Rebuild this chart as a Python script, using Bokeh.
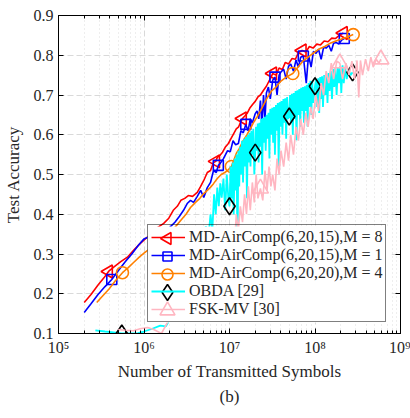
import numpy as np
from bokeh.plotting import figure
from bokeh.models import (LogAxis, LinearAxis, FixedTicker, Legend, LegendItem, Range1d, Title,
                          CustomJSTickFormatter, LinearScale)
from bokeh.embed import file_html
from bokeh.resources import INLINE

# ---------------- data ----------------
red_x = [2.0e5, 2.4e5, 2.9e5, 3.4e5, 3.85e5, 4.5e5, 5.3e5, 6.4e5, 7.6e5, 9.0e5,
         1.05e6, 1.25e6, 1.45e6, 1.7e6, 1.95e6, 2.2e6, 2.45e6, 2.7e6, 3.0e6, 3.3e6,
         3.7e6, 4.2e6, 4.6e6, 5.0e6, 5.5e6, 6.0e6, 6.5e6, 6.9e6, 7.2e6, 7.7e6,
         8.3e6, 9.0e6, 9.7e6, 1.04e7, 1.12e7, 1.2e7, 1.28e7, 1.35e7, 1.42e7, 1.52e7,
         1.62e7, 1.74e7, 1.86e7, 2.0e7, 2.15e7, 2.3e7, 2.5e7, 2.7e7, 2.95e7, 3.2e7,
         3.5e7, 3.8e7, 4.15e7, 4.5e7, 4.9e7, 5.4e7, 5.9e7, 6.4e7, 7.1e7, 7.8e7,
         8.6e7, 9.5e7, 1.05e8, 1.16e8, 1.28e8, 1.42e8, 1.57e8, 1.73e8, 1.92e8, 2.15e8]
red_y = [0.178, 0.198, 0.222, 0.240, 0.256, 0.268, 0.280, 0.292, 0.310, 0.326,
         0.339, 0.352, 0.367, 0.377, 0.390, 0.410, 0.420, 0.435, 0.440, 0.447,
         0.445, 0.455, 0.470, 0.485, 0.505, 0.510, 0.530, 0.533, 0.543, 0.548,
         0.556, 0.570, 0.578, 0.590, 0.603, 0.615, 0.620, 0.632, 0.641, 0.648,
         0.655, 0.668, 0.676, 0.684, 0.695, 0.700, 0.712, 0.722, 0.738, 0.754,
         0.750, 0.768, 0.764, 0.782, 0.778, 0.792, 0.790, 0.807, 0.812, 0.808,
         0.822, 0.818, 0.828, 0.826, 0.836, 0.834, 0.843, 0.842, 0.850, 0.856]
red_mx = [3.85e5, 6.9e6, 1.42e7, 3.2e7, 7.1e7, 2.15e8]
red_my = [0.256, 0.533, 0.641, 0.754, 0.812, 0.856]

blue_x = [2.0e5, 2.4e5, 2.9e5, 3.5e5, 4.2e5, 5.0e5, 6.0e5, 7.2e5, 8.6e5, 1.0e6,
          1.2e6, 1.4e6, 1.7e6, 2.0e6, 2.3e6, 2.6e6, 2.9e6, 3.2e6, 3.5e6, 3.8e6,
          4.2e6, 4.6e6, 5.0e6, 5.5e6, 6.0e6, 6.5e6, 7.0e6, 7.4e6, 7.8e6, 8.5e6,
          9.5e6, 1.02e7, 1.1e7, 1.18e7, 1.27e7, 1.36e7, 1.45e7, 1.55e7, 1.65e7, 1.75e7,
          1.85e7, 2.0e7, 2.1e7, 2.2e7, 2.3e7, 2.4e7, 2.5e7, 2.6e7, 2.7e7, 2.85e7,
          3.0e7, 3.2e7, 3.4e7, 3.6e7, 3.8e7, 4.0e7, 4.3e7, 4.6e7, 4.9e7, 5.2e7,
          5.6e7, 6.0e7, 6.4e7, 6.8e7, 7.3e7, 7.9e7, 8.4e7, 9.0e7, 9.6e7, 1.03e8,
          1.1e8, 1.18e8, 1.26e8, 1.35e8, 1.45e8, 1.55e8, 1.65e8, 1.77e8, 1.9e8, 2.05e8,
          2.2e8]
blue_y = [0.153, 0.175, 0.198, 0.218, 0.236, 0.258, 0.280, 0.300, 0.322, 0.338,
          0.345, 0.352, 0.360, 0.367, 0.380, 0.395, 0.410, 0.427, 0.435, 0.430,
          0.445, 0.460, 0.442, 0.467, 0.480, 0.510, 0.505, 0.523, 0.528, 0.540,
          0.560, 0.557, 0.585, 0.575, 0.578, 0.610, 0.605, 0.626, 0.610, 0.640,
          0.630, 0.653, 0.660, 0.640, 0.686, 0.620, 0.700, 0.640, 0.705, 0.720,
          0.690, 0.737, 0.745, 0.700, 0.750, 0.758, 0.765, 0.740, 0.772, 0.778,
          0.760, 0.788, 0.770, 0.795, 0.798, 0.730, 0.800, 0.770, 0.810, 0.805,
          0.815, 0.790, 0.820, 0.818, 0.825, 0.810, 0.830, 0.832, 0.828, 0.838,
          0.842]
blue_mx = [4.2e5, 7.4e6, 1.55e7, 3.4e7, 7.3e7, 2.2e8]
blue_my = [0.236, 0.523, 0.626, 0.745, 0.798, 0.842]

orange_x = [2.8e5, 3.3e5, 3.9e5, 4.6e5, 5.6e5, 6.5e5, 7.5e5, 8.8e5, 1.0e6, 1.15e6,
            1.3e6, 1.5e6, 1.7e6, 2.0e6, 2.3e6, 2.7e6, 3.1e6, 3.5e6, 4.0e6, 4.5e6,
            5.0e6, 5.5e6, 6.0e6, 6.5e6, 7.2e6, 8.0e6, 8.8e6, 9.5e6, 1.05e7, 1.12e7,
            1.2e7, 1.3e7, 1.45e7, 1.6e7, 1.75e7, 1.9e7, 2.1e7, 2.3e7, 2.5e7, 2.8e7,
            3.1e7, 3.5e7, 4.0e7, 4.6e7, 5.5e7, 6.3e7, 7.2e7, 8.3e7, 9.5e7, 1.1e8,
            1.3e8, 1.5e8, 1.75e8, 2.0e8, 2.4e8, 2.8e8]
orange_y = [0.178, 0.195, 0.212, 0.232, 0.253, 0.265, 0.278, 0.292, 0.302, 0.312,
            0.322, 0.335, 0.345, 0.358, 0.367, 0.385, 0.400, 0.417, 0.430, 0.440,
            0.452, 0.460, 0.468, 0.477, 0.490, 0.500, 0.505, 0.510, 0.520, 0.535,
            0.553, 0.565, 0.586, 0.600, 0.615, 0.630, 0.645, 0.660, 0.675, 0.695,
            0.710, 0.720, 0.735, 0.745, 0.754, 0.770, 0.785, 0.795, 0.805, 0.815,
            0.822, 0.830, 0.836, 0.840, 0.846, 0.852]
orange_mx = [5.6e5, 1.05e7, 5.5e7, 2.8e8]
orange_my = [0.253, 0.520, 0.754, 0.852]

cyan_x = [2.7e5, 3.5e5, 4.4e5, 5.5e5, 7.0e5, 8.5e5, 1.0e6, 1.25e6, 1.55e6, 1.8e6,
          2.2e6, 2.8e6, 3.5e6, 4.2e6, 4.8e6, 5.3e6, 5.6e6, 6.0e6, 6.3e6, 6.6e6,
          6.9e6, 7.2e6, 7.5e6, 7.8e6, 8.1e6, 8.5e6, 8.9e6, 9.3e6, 9.7e6, 1.0e7,
          1.03e7, 1.06e7, 1.09e7, 1.12e7, 1.15e7, 1.18e7, 1.21e7, 1.24e7, 1.27e7, 1.30e7,
          1.33e7, 1.36e7, 1.40e7, 1.44e7, 1.48e7, 1.52e7, 1.56e7, 1.60e7, 1.64e7, 1.68e7,
          1.72e7, 1.76e7, 1.80e7, 1.85e7, 1.90e7, 1.95e7, 2.00e7, 2.04e7, 2.09e7, 2.14e7,
          2.19e7, 2.24e7, 2.29e7, 2.35e7, 2.41e7, 2.47e7, 2.53e7, 2.59e7, 2.65e7, 2.72e7,
          2.79e7, 2.86e7, 2.93e7, 3.00e7, 3.08e7, 3.16e7, 3.24e7, 3.32e7, 3.40e7, 3.49e7,
          3.58e7, 3.67e7, 3.76e7, 3.86e7, 3.96e7, 4.06e7, 4.16e7, 4.27e7, 4.38e7, 4.49e7,
          4.60e7, 4.72e7, 4.84e7, 5.00e7, 5.10e7, 5.23e7, 5.36e7, 5.50e7, 5.64e7, 5.78e7,
          5.93e7, 6.08e7, 6.23e7, 6.39e7, 6.55e7, 6.72e7, 6.89e7, 7.06e7, 7.24e7, 7.42e7,
          7.61e7, 7.80e7, 8.00e7, 8.20e7, 8.40e7, 8.62e7, 8.84e7, 9.06e7, 9.29e7, 9.52e7,
          1.00e8, 1.03e8, 1.06e8, 1.09e8, 1.12e8, 1.15e8, 1.18e8, 1.21e8, 1.24e8, 1.28e8,
          1.32e8, 1.36e8, 1.40e8, 1.44e8, 1.48e8, 1.53e8, 1.58e8, 1.63e8, 1.68e8, 1.73e8,
          1.79e8, 1.85e8, 1.91e8, 1.97e8, 2.03e8, 2.10e8, 2.17e8, 2.25e8, 2.35e8, 2.45e8,
          2.60e8, 2.75e8]
cyan_y = [0.108, 0.105, 0.103, 0.100, 0.100, 0.101, 0.105, 0.112, 0.120, 0.118,
          0.150, 0.200, 0.260, 0.310, 0.340, 0.370, 0.330, 0.400, 0.360, 0.450,
          0.400, 0.467, 0.420, 0.478, 0.442, 0.490, 0.410, 0.500, 0.440, 0.420,
          0.520, 0.440, 0.530, 0.400, 0.540, 0.460, 0.550, 0.300, 0.560, 0.470,
          0.570, 0.500, 0.585, 0.480, 0.590, 0.520, 0.595, 0.440, 0.600, 0.530,
          0.605, 0.520, 0.610, 0.550, 0.615, 0.500, 0.555, 0.620, 0.560, 0.628,
          0.530, 0.630, 0.570, 0.640, 0.500, 0.642, 0.580, 0.645, 0.560, 0.650,
          0.590, 0.655, 0.540, 0.665, 0.600, 0.668, 0.580, 0.670, 0.550, 0.675,
          0.610, 0.680, 0.520, 0.682, 0.620, 0.685, 0.600, 0.690, 0.630, 0.692,
          0.590, 0.695, 0.640, 0.646, 0.700, 0.630, 0.703, 0.600, 0.705, 0.640,
          0.710, 0.586, 0.712, 0.650, 0.715, 0.620, 0.718, 0.660, 0.720, 0.630,
          0.722, 0.660, 0.725, 0.620, 0.730, 0.670, 0.736, 0.650, 0.735, 0.680,
          0.722, 0.740, 0.670, 0.742, 0.655, 0.745, 0.690, 0.747, 0.670, 0.750,
          0.700, 0.752, 0.680, 0.755, 0.710, 0.760, 0.690, 0.765, 0.720, 0.768,
          0.700, 0.770, 0.730, 0.772, 0.705, 0.775, 0.730, 0.770, 0.740, 0.765,
          0.750, 0.757]
cyan_mx = [5.5e5, 1.0e7, 2.0e7, 5.0e7, 1.0e8, 2.75e8]
cyan_my = [0.100, 0.420, 0.555, 0.646, 0.722, 0.757]

pink_x = [5.0e5, 6.0e5, 7.5e5, 9.0e5, 1.1e6, 1.3e6, 1.6e6, 1.9e6, 2.5e6, 3.5e6,
          5.0e6, 7.0e6, 9.0e6, 1.05e7, 1.15e7, 1.2e7, 1.27e7, 1.34e7, 1.42e7, 1.5e7,
          1.58e7, 1.66e7, 1.75e7, 1.85e7, 1.95e7, 2.05e7, 2.15e7, 2.3e7, 2.45e7, 2.6e7,
          2.75e7, 2.9e7, 3.05e7, 3.2e7, 3.4e7, 3.6e7, 3.8e7, 4.0e7, 4.3e7, 4.6e7,
          4.9e7, 5.2e7, 5.6e7, 6.0e7, 6.4e7, 6.8e7, 7.3e7, 7.8e7, 8.3e7, 8.9e7,
          9.5e7, 1.02e8, 1.1e8, 1.18e8, 1.26e8, 1.35e8, 1.45e8, 1.55e8, 1.65e8, 1.8e8,
          1.95e8, 2.1e8, 2.3e8, 2.5e8, 2.7e8, 2.9e8, 3.1e8, 3.25e8, 3.4e8, 3.6e8,
          3.9e8, 4.2e8, 4.5e8, 4.8e8, 5.2e8, 5.6e8, 5.9e8]
pink_y = [0.110, 0.108, 0.107, 0.112, 0.115, 0.110, 0.100, 0.130, 0.170, 0.220,
          0.270, 0.310, 0.340, 0.360, 0.330, 0.400, 0.360, 0.420, 0.380, 0.450,
          0.400, 0.470, 0.410, 0.480, 0.430, 0.500, 0.440, 0.465, 0.435, 0.510,
          0.460, 0.520, 0.470, 0.500, 0.460, 0.540, 0.500, 0.560, 0.520, 0.580,
          0.535, 0.600, 0.550, 0.620, 0.585, 0.640, 0.600, 0.655, 0.620, 0.670,
          0.640, 0.700, 0.660, 0.730, 0.700, 0.760, 0.730, 0.780, 0.740, 0.785,
          0.780, 0.740, 0.780, 0.750, 0.785, 0.740, 0.787, 0.694, 0.787, 0.750,
          0.790, 0.760, 0.795, 0.770, 0.790, 0.780, 0.790]
pink_mx = [2.3e7, 1.95e8, 5.9e8]
pink_my = [0.465, 0.780, 0.790]

labels = ["MD-AirComp(6,20,15),M = 8", "MD-AirComp(6,20,15),M = 1",
          "MD-AirComp(6,20,20),M = 4", "OBDA [29]", "FSK-MV [30]"]

x_ticks = [1e5, 1e6, 1e7, 1e8, 1e9]
x_tick_labels = ["10\u2075", "10\u2076", "10\u2077", "10\u2078", "10\u2079"]
y_ticks = [0.1, 0.2, 0.3, 0.4, 0.5, 0.6, 0.7, 0.8, 0.9]

# ---------------- figure ----------------
FONT = "Liberation Serif"
FW, FH = 342, 318          # plot frame size in pixels
p = figure(width=410, height=418, x_axis_type="log", output_backend="svg",
           toolbar_location=None, x_range=Range1d(1e5, 1e9), y_range=Range1d(0.1, 0.9),
           min_border_left=58, min_border_right=10, min_border_top=15, min_border_bottom=85)
p.background_fill_color = "white"
p.border_fill_color = "white"
p.outline_line_color = "black"
p.outline_line_width = 1
# pixel-unit ranges used only to place the legend's box and marker glyphs
p.extra_x_ranges = {"lx": Range1d(0, FW)}
p.extra_y_ranges = {"ly": Range1d(0, FH)}
p.extra_x_scales = {"lx": LinearScale()}
p.extra_y_scales = {"ly": LinearScale()}

minor = [m * 10 ** e for e in range(5, 9) for m in range(2, 10)]
xt = FixedTicker(ticks=x_ticks, minor_ticks=minor)
yt = FixedTicker(ticks=y_ticks, minor_ticks=[])

xa = p.xaxis[0]
xa.ticker = xt
xa.major_label_overrides = {int(v): s for v, s in zip(x_ticks, x_tick_labels)}
ya = p.yaxis[0]
ya.ticker = yt
for ax in (xa, ya):
    ax.major_tick_in = 5
    ax.major_tick_out = 0
    ax.minor_tick_in = 3
    ax.minor_tick_out = 0
    ax.axis_line_color = "black"
    ax.major_tick_line_color = "black"
    ax.minor_tick_line_color = "black"
    ax.major_label_text_font = FONT
    ax.major_label_text_font_size = "16px"
    ax.major_label_text_color = "#262626"
    ax.axis_label_text_font = FONT
    ax.axis_label_text_font_size = "17px"
    ax.axis_label_text_font_style = "normal"
    ax.axis_label_text_color = "#262626"
ya.minor_tick_line_color = None
xa.axis_label = "Number of Transmitted Symbols"
ya.axis_label = "Test Accuracy"
xa.major_label_standoff = 5
xa.axis_label_standoff = 3
ya.major_label_standoff = 5
ya.axis_label_standoff = 8

blank = CustomJSTickFormatter(code="return ''")
top = LogAxis(ticker=xt, formatter=blank, major_tick_in=5, major_tick_out=0,
              minor_tick_in=3, minor_tick_out=0, axis_line_color="black",
              major_label_standoff=0)
right = LinearAxis(ticker=yt, formatter=blank, major_tick_in=5, major_tick_out=0,
                   minor_tick_line_color=None, axis_line_color="black",
                   major_label_standoff=0)
p.add_layout(top, "above")
p.add_layout(right, "right")

p.xgrid.grid_line_color = "#d9d9d9"
p.xgrid.grid_line_dash = "6 3"
p.xgrid.minor_grid_line_color = "#dcdcdc"
p.xgrid.minor_grid_line_dash = "1 3"
p.ygrid.grid_line_color = "#d9d9d9"
p.ygrid.grid_line_dash = "6 3"

series = [
    (red_x, red_y, red_mx, red_my, "#ff0000", "triangle", np.pi / 2, 13, 1.6),
    (blue_x, blue_y, blue_mx, blue_my, "#0000ff", "square", 0.0, 10, 1.6),
    (orange_x, orange_y, orange_mx, orange_my, "#ff8000", "circle", 0.0, 12, 1.6),
    (cyan_x, cyan_y, cyan_mx, cyan_my, "#00ffff", "diamond", 0.0, 17, 1.8),
    (pink_x, pink_y, pink_mx, pink_my, "#ffb6c1", "triangle", 0.0, 16, 1.6),
]
marker_colors = ["#ff0000", "#0000ff", "#ff8000", "black", "#ffb6c1"]

# legend layout (pixels inside the frame): box lower-left corner, size, row height, glyph centre
LEG_X, LEG_Y, LEG_W, ROW_H, PAD, GLYPH_W = 89, 11, 244, 18, 3, 34
n = len(labels)
LEG_H = n * ROW_H + 2 * PAD
leg_mx = [LEG_X + PAD + GLYPH_W / 2] * n
leg_my = [LEG_Y + PAD + ROW_H * (n - i) - ROW_H / 2 for i in range(n)]

line_renderers = []
for (sx, sy, mx, my, col, mk, ang, sz, lw), mcol in zip(series, marker_colors):
    lr = p.line(sx, sy, line_color=col, line_width=lw)
    p.scatter(mx, my, marker=mk, size=sz, angle=ang, fill_color=None,
              line_color=mcol, line_width=1.6)
    line_renderers.append(lr)

# white legend background, then the legend's marker glyphs, above the data
p.quad(left=[LEG_X], right=[LEG_X + LEG_W], bottom=[LEG_Y], top=[LEG_Y + LEG_H],
       fill_color="white", line_color=None, x_range_name="lx", y_range_name="ly",
       level="overlay")
for i, ((sx, sy, mx, my, col, mk, ang, sz, lw), mcol) in enumerate(zip(series, marker_colors)):
    p.scatter([leg_mx[i]], [leg_my[i]], marker=mk, size=sz - 1, angle=ang, fill_color=None,
              line_color=mcol, line_width=1.6, x_range_name="lx", y_range_name="ly",
              level="overlay")

items = [LegendItem(label=lab, renderers=[lr]) for lab, lr in zip(labels, line_renderers)]
legend = Legend(items=items, location=(LEG_X, LEG_Y))
legend.label_text_font = FONT
legend.label_text_font_size = "16px"
legend.label_text_color = "#262626"
legend.glyph_width = GLYPH_W
legend.glyph_height = ROW_H
legend.label_height = ROW_H
legend.spacing = 0
legend.padding = PAD
legend.margin = 0
legend.label_standoff = 4
legend.border_line_color = "black"
legend.border_line_width = 1
legend.background_fill_alpha = 0
p.add_layout(legend, "center")

cap = Title(text="(b)", align="center", text_font=FONT, text_font_size="17px",
            text_font_style="normal", text_color="#262626", standoff=3)
p.add_layout(cap, "below")

open("out.html", "w").write(file_html(p, INLINE))
